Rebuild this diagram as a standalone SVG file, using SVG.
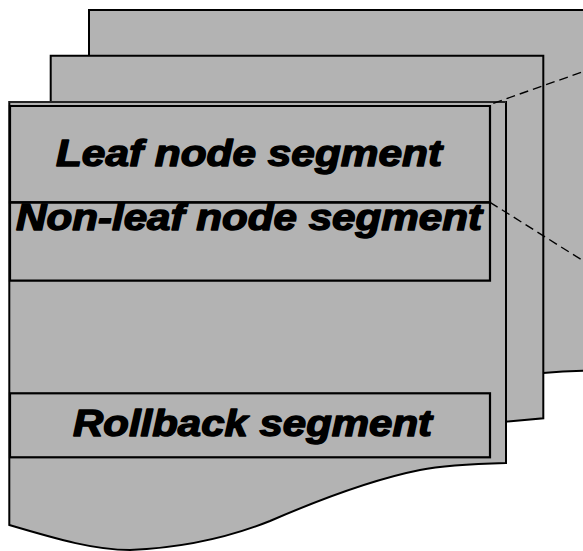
<svg xmlns="http://www.w3.org/2000/svg" width="583" height="551" viewBox="0 0 583 551">
  <style>
    .page { fill: #b3b3b3; stroke: #000; stroke-width: 2; stroke-linejoin: miter; }
    .box { fill: none; stroke: #000; stroke-width: 2.2; }
    .lbl { font-family: "Liberation Sans", Arial, sans-serif; font-weight: bold; font-style: italic; font-size: 36px; fill: #000; stroke: #000; stroke-width: 1.4; stroke-linejoin: round; }
    .dash { fill: none; stroke: #000; stroke-width: 1.4; stroke-dasharray: 9 5; }
  </style>
  <g id="back-page">
    <path class="page" d="M89,10 H600 V370.5 C580,370.5 560,371.5 543,373 V200 H89 Z"/>
  </g>
  <g id="middle-page">
    <path class="page" d="M50.7,55.7 H543.3 V418.3 L506,421.7 V200 H50.7 Z"/>
  </g>
  <g id="front-page">
    <path class="page" d="M9.3,102 H506 V463 C470,464 440,466 420,470 C380,478 330,495 270,521 C230,537 180,548 130,550 C95,550 60,540 9.3,525 Z"/>
    <line x1="9.3" y1="102" x2="506" y2="102" stroke="#333" stroke-width="1.5"/>
  </g>
  <g id="leaf-node-segment">
    <path class="box" d="M10,106 H490 V202.3 H10 Z"/>
    <text class="lbl" x="56" y="166" textLength="386" lengthAdjust="spacingAndGlyphs">Leaf node segment</text>
  </g>
  <g id="non-leaf-node-segment">
    <path class="box" d="M10,202.3 H490 V280.7 H10 Z"/>
    <text class="lbl" x="16" y="230" textLength="466" lengthAdjust="spacingAndGlyphs">Non-leaf node segment</text>
  </g>
  <g id="rollback-segment">
    <rect class="box" x="10" y="393.3" width="480" height="64"/>
    <text class="lbl" x="73" y="436" textLength="359" lengthAdjust="spacingAndGlyphs">Rollback segment</text>
  </g>
  <g id="connectors">
    <line class="dash" x1="493.3" y1="103.3" x2="583" y2="71.7"/>
    <line class="dash" x1="490" y1="202.3" x2="583" y2="260.7"/>
  </g>
</svg>
